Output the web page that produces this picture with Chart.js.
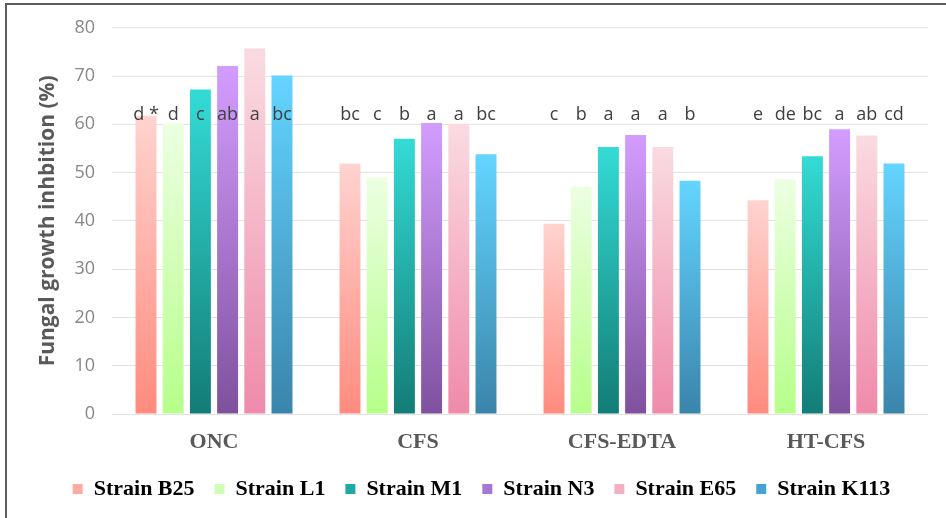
<!DOCTYPE html>
<html>
<head>
<meta charset="utf-8">
<script src="https://cdn.jsdelivr.net/npm/chart.js@4.4.1/dist/chart.umd.min.js"></script>
<style>
  html, body { margin: 0; padding: 0; background: #fff; }
  #wrap { position: relative; width: 946px; height: 518px; }
  #frame {
    position: absolute; left: 5px; top: 3px; width: 941px; height: 515px;
    border-top: 2px solid #5c5c5c; border-left: 2px solid #5c5c5c;
    box-sizing: border-box; pointer-events: none;
  }
</style>
</head>
<body>
<div id="wrap">
  <canvas id="inhibition_chart" width="946" height="518"></canvas>
  <div id="frame"></div>
</div>
<script>
// treatments on the x axis
const categories = ["ONC", "CFS", "CFS-EDTA", "HT-CFS"];

// fungal growth inhibition (%) per strain, one value per treatment
const strainB25  = [61.8, 51.9, 39.4, 44.3];
const strainL1   = [60.2, 49.0, 47.1, 48.6];
const strainM1   = [67.2, 57.0, 55.3, 53.4];
const strainN3   = [72.1, 60.3, 57.8, 59.0];
const strainE65  = [75.7, 60.1, 55.3, 57.7];
const strainK113 = [70.1, 53.8, 48.3, 51.9];

// significance letters written above the bars
const lettersB25  = ["d *", "bc", "c", "e"];
const lettersL1   = ["d", "c", "b", "de"];
const lettersM1   = ["c", "b", "a", "bc"];
const lettersN3   = ["ab", "a", "a", "a"];
const lettersE65  = ["a", "a", "a", "ab"];
const lettersK113 = ["bc", "bc", "b", "cd"];

const yTicks = [0, 10, 20, 30, 40, 50, 60, 70, 80];

const LETTER_LEVEL = 62.0;
const SANS  = "'Open Sans', sans-serif";
const SERIF = "'Liberation Serif', 'Times New Roman', serif";

const series = [
  { label: "Strain B25",  data: strainB25,  letters: lettersB25,  top: "#ffd3cf", bottom: "#ff8b7e", legend: "#ffaaa2" },
  { label: "Strain L1",   data: strainL1,   letters: lettersL1,   top: "#ecffe2", bottom: "#b6ff8a", legend: "#cfffb4" },
  { label: "Strain M1",   data: strainM1,   letters: lettersM1,   top: "#34dbd5", bottom: "#137c76", legend: "#1fa9a3" },
  { label: "Strain N3",   data: strainN3,   letters: lettersN3,   top: "#d39dff", bottom: "#7e519e", legend: "#a777d6" },
  { label: "Strain E65",  data: strainE65,  letters: lettersE65,  top: "#fadbe1", bottom: "#ef8aab", legend: "#f4b0c2" },
  { label: "Strain K113", data: strainK113, letters: lettersK113, top: "#63d5ff", bottom: "#3a84ab", legend: "#45a3d6" },
];

// vertical gradient per bar, from its top down to the zero line
function barGradient(s) {
  return (ctx) => {
    if (ctx.type !== "data") return s.legend;
    const chart = ctx.chart;
    if (!chart.chartArea) return s.legend;
    const y = chart.scales.y;
    const g = chart.ctx.createLinearGradient(0, y.getPixelForValue(ctx.raw), 0, y.getPixelForValue(0));
    g.addColorStop(0, s.top);
    g.addColorStop(1, s.bottom);
    return g;
  };
}

const letterPlugin = {
  id: "letters",
  afterDatasetsDraw(chart) {
    const c = chart.ctx;
    const y = chart.scales.y.getPixelForValue(LETTER_LEVEL);
    c.save();
    c.font = `18px ${SANS}`;
    c.fillStyle = "#404040";
    c.textAlign = "center";
    c.textBaseline = "middle";
    chart.data.datasets.forEach((ds, i) => {
      chart.getDatasetMeta(i).data.forEach((bar, j) => {
        c.fillText(ds.letters[j], bar.x, y);
      });
    });
    c.restore();
  },
};

new Chart(document.getElementById("inhibition_chart"), {
  type: "bar",
  data: {
    labels: categories,
    datasets: series.map((s) => ({
      label: s.label,
      data: s.data,
      letters: s.letters,
      backgroundColor: barGradient(s),
      borderWidth: 0,
      barPercentage: 0.77,
      categoryPercentage: 0.8,
    })),
  },
  options: {
    responsive: false,
    animation: false,
    layout: { padding: { left: 35, right: 18, top: 27, bottom: 8 } },
    plugins: {
      tooltip: { enabled: false },
      legend: {
        position: "bottom",
        labels: {
          boxWidth: 10, boxHeight: 10, padding: 20,
          color: "#595959",
          font: { family: SERIF, size: 22, weight: "bold" },
          generateLabels: (chart) => chart.data.datasets.map((ds, i) => ({
            text: ds.label,
            fillStyle: series[i].legend,
            strokeStyle: series[i].legend,
            lineWidth: 0,
            datasetIndex: i,
          })),
        },
      },
    },
    scales: {
      x: {
        grid: { display: false, drawTicks: false },
        border: { display: false },
        ticks: { color: "#595959", padding: 15, font: { family: SERIF, size: 22, weight: "bold" } },
        afterFit: (scale) => { scale.height = 44; },
      },
      y: {
        min: 0, max: 80,
        afterBuildTicks: (scale) => { scale.ticks = yTicks.map((v) => ({ value: v })); },
        grid: { color: "#e2e2e2", drawTicks: false },
        border: { display: false },
        ticks: { color: "#878787", padding: 17, font: { family: SANS, size: 18 } },
        title: {
          display: true,
          text: "Fungal growth inhbition (%)",
          color: "#595959",
          padding: { top: 0, bottom: 0 },
          font: { family: SANS, size: 21, weight: "bold" },
        },
        afterFit: (scale) => { scale.width = 77; },
      },
    },
  },
  plugins: [letterPlugin],
});
</script>
</body>
</html>
